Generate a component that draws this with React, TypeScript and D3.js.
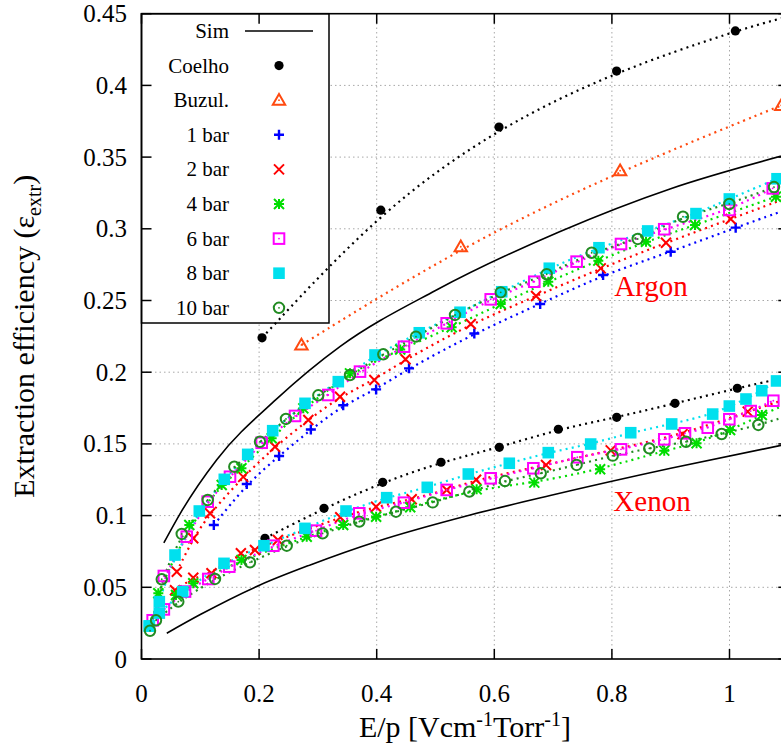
import * as d3 from 'd3';

type Pt = [number, number];

// simulation curves (solid black)
const simAr: Pt[] = [[0.038, 0.081], [0.066, 0.1016], [0.128, 0.139], [0.229, 0.181], [0.338, 0.218], [0.5, 0.257], [0.711, 0.298], [0.9, 0.328], [1.1, 0.352]];
const simXe: Pt[] = [[0.043, 0.018], [0.1, 0.031], [0.2015, 0.0516], [0.287, 0.0656], [0.399, 0.0818], [0.559, 0.1004], [0.695, 0.114], [0.9, 0.133], [1.1, 0.15]];

// literature data
const coelhoAr: Pt[] = [[0.205, 0.224], [0.407, 0.313], [0.608, 0.371], [0.808, 0.41], [1.01, 0.438]];
const coelhoXe: Pt[] = [[0.21, 0.0842], [0.3104, 0.1051], [0.4102, 0.1232], [0.5094, 0.1372], [0.6085, 0.1476], [0.7089, 0.1602], [0.8082, 0.1685], [0.9073, 0.1783], [1.0133, 0.1888]];
const buzulAr: Pt[] = [[0.272, 0.219], [0.543, 0.2875], [0.814, 0.3405], [1.088, 0.386]];

// measured, argon
const bar1Ar: Pt[] = [[0.123, 0.0934], [0.179, 0.122], [0.234, 0.1416], [0.288, 0.16], [0.343, 0.177], [0.399, 0.188], [0.455, 0.2027], [0.566, 0.227], [0.678, 0.2476], [0.785, 0.2678], [0.9, 0.284], [1.0105, 0.3008]];
const bar2Ar: Pt[] = [[0.06, 0.0609], [0.088, 0.0842], [0.1165, 0.1016], [0.173, 0.127], [0.227, 0.148], [0.2837, 0.1667], [0.3376, 0.1829], [0.396, 0.1946], [0.449, 0.209], [0.56, 0.2336], [0.671, 0.2531], [0.781, 0.2724], [0.892, 0.2903], [1.002, 0.3068]];
const bar4Ar: Pt[] = [[0.0286, 0.0458], [0.0813, 0.0934], [0.1364, 0.1213], [0.17, 0.133], [0.2214, 0.1539], [0.2752, 0.1748], [0.3546, 0.1992], [0.44, 0.2158], [0.5275, 0.2313], [0.6109, 0.2476], [0.6918, 0.2631], [0.7769, 0.2778], [0.858, 0.291], [0.9413, 0.3026], [1.079, 0.3224]];
const bar6Ar: Pt[] = [[0.019, 0.027], [0.038, 0.0579], [0.0769, 0.0853], [0.1126, 0.1097], [0.1505, 0.1271], [0.2044, 0.1508], [0.2611, 0.1695], [0.3177, 0.1841], [0.3716, 0.2004], [0.4464, 0.2178], [0.519, 0.2341], [0.5939, 0.2508], [0.668, 0.2631], [0.74, 0.2771], [0.8155, 0.2894], [0.889, 0.2997], [0.9997, 0.3131], [1.0735, 0.3282]];
const bar8Ar: Pt[] = [[0.0133, 0.023], [0.0303, 0.04], [0.057, 0.0725], [0.0983, 0.1032], [0.1408, 0.1253], [0.1806, 0.1427], [0.2231, 0.1592], [0.2781, 0.1783], [0.3347, 0.1934], [0.3971, 0.212], [0.4724, 0.2275], [0.5417, 0.2418], [0.6126, 0.2561], [0.6935, 0.2725], [0.778, 0.2868], [0.8609, 0.2985], [0.943, 0.3106], [0.9997, 0.3208], [1.0808, 0.3349]];
const bar10Ar: Pt[] = [[0.0145, 0.0197], [0.0344, 0.0556], [0.0684, 0.0872], [0.1126, 0.1109], [0.1578, 0.1341], [0.2015, 0.1515], [0.2457, 0.1674], [0.3007, 0.1839], [0.3546, 0.198], [0.4112, 0.2125], [0.4668, 0.2248], [0.5332, 0.2399], [0.6109, 0.2557], [0.6891, 0.2683], [0.7656, 0.2833], [0.8439, 0.2929], [0.9209, 0.3084], [0.9997, 0.3173], [1.0757, 0.3291]];

// measured, xenon
const bar2Xe: Pt[] = [[0.057, 0.048], [0.088, 0.0567], [0.119, 0.0598], [0.169, 0.0737], [0.193, 0.076], [0.232, 0.083], [0.338, 0.0988], [0.399, 0.1062], [0.4595, 0.1114], [0.519, 0.1179], [0.569, 0.125], [0.688, 0.1353], [0.798, 0.1455], [0.92, 0.1568], [1.031, 0.1725]];
const bar4Xe: Pt[] = [[0.0587, 0.0446], [0.088, 0.0528], [0.17, 0.069], [0.281, 0.0853], [0.343, 0.0934], [0.399, 0.0992], [0.457, 0.1058], [0.57, 0.1183], [0.668, 0.123], [0.78, 0.1323], [0.889, 0.1453], [0.944, 0.1504], [1.001, 0.1597], [1.055, 0.1702]];
const bar6Xe: Pt[] = [[0.038, 0.0346], [0.074, 0.047], [0.1136, 0.0558], [0.1493, 0.0644], [0.2242, 0.079], [0.2968, 0.0895], [0.3704, 0.1016], [0.4464, 0.109], [0.519, 0.1179], [0.5939, 0.126], [0.6664, 0.133], [0.7412, 0.1407], [0.8155, 0.1462], [0.8891, 0.1532], [0.9243, 0.1574], [0.963, 0.1613], [0.9997, 0.1672], [1.036, 0.1729], [1.0745, 0.1801]];
const bar8Xe: Pt[] = [[0.0133, 0.023], [0.0303, 0.032], [0.07, 0.047], [0.1403, 0.0667], [0.2083, 0.079], [0.278, 0.0911], [0.3478, 0.1032], [0.417, 0.1125], [0.486, 0.1197], [0.5558, 0.129], [0.6255, 0.1365], [0.6918, 0.1439], [0.7639, 0.1499], [0.832, 0.1578], [0.9017, 0.1639], [0.9714, 0.1708], [0.9997, 0.1764], [1.028, 0.1813], [1.0548, 0.1871], [1.08, 0.1939]];
const bar10Xe: Pt[] = [[0.0247, 0.027], [0.0626, 0.04], [0.125, 0.0558], [0.1845, 0.0674], [0.247, 0.079], [0.308, 0.0876], [0.3704, 0.0958], [0.4328, 0.1027], [0.4952, 0.1092], [0.5575, 0.1167], [0.6182, 0.1241], [0.679, 0.1295], [0.74, 0.1353], [0.8014, 0.1418], [0.8636, 0.1469], [0.926, 0.1515], [0.9867, 0.1569], [1.049, 0.1632]];

// where the dotted fit keeps going past the last marker
const coelhoArTail: Pt[] = [[1.09, 0.447]];
const coelhoXeTail: Pt[] = [[1.0876, 0.1957]];
const bar1ArTail: Pt[] = [[1.0876, 0.312]];
const bar2ArTail: Pt[] = [[1.0876, 0.32]];
const bar2XeTail: Pt[] = [[1.0876, 0.18]];
const bar4XeTail: Pt[] = [[1.0876, 0.176]];
const bar10XeTail: Pt[] = [[1.0876, 0.168]];

const xTicks = [0, 0.2, 0.4, 0.6, 0.8, 1];
const yTicks = [0, 0.05, 0.1, 0.15, 0.2, 0.25, 0.3, 0.35, 0.4, 0.45];

type MarkerType = 'dot' | 'tri' | 'plus' | 'cross' | 'star' | 'sqOpen' | 'sqFill' | 'circOpen';

const series: { name: string; color: string; marker: MarkerType; sets: Pt[][]; fits: Pt[][] }[] = [
  { name: 'Coelho', color: '#000000', marker: 'dot', sets: [coelhoAr, coelhoXe], fits: [[...coelhoAr, ...coelhoArTail], [...coelhoXe, ...coelhoXeTail]] },
  { name: 'Buzul.', color: '#ff4a10', marker: 'tri', sets: [buzulAr], fits: [buzulAr] },
  { name: '1 bar', color: '#0000ff', marker: 'plus', sets: [bar1Ar], fits: [[...bar1Ar, ...bar1ArTail]] },
  { name: '2 bar', color: '#ff0000', marker: 'cross', sets: [bar2Ar, bar2Xe], fits: [[...bar2Ar, ...bar2ArTail], [...bar2Xe, ...bar2XeTail]] },
  { name: '4 bar', color: '#00dd00', marker: 'star', sets: [bar4Ar, bar4Xe], fits: [bar4Ar, [...bar4Xe, ...bar4XeTail]] },
  { name: '6 bar', color: '#ff00ff', marker: 'sqOpen', sets: [bar6Ar, bar6Xe], fits: [bar6Ar, bar6Xe] },
  { name: '8 bar', color: '#00e0ee', marker: 'sqFill', sets: [bar8Ar, bar8Xe], fits: [bar8Ar, bar8Xe] },
  { name: '10 bar', color: '#228b22', marker: 'circOpen', sets: [bar10Ar, bar10Xe], fits: [bar10Ar, [...bar10Xe, ...bar10XeTail]] },
];

const W = 781;
const H = 744;
const X0 = 141.5;
const Y0 = 659;
const x = d3.scaleLinear().domain([0, 1.1]).range([X0, X0 + 1.1 * 588]);
const y = d3.scaleLinear().domain([0, 0.45]).range([Y0, Y0 - 0.45 * 1434]);
const TOP = y(0.45);
const RIGHT = x(1.1);

const simLine = d3.line<Pt>().x(d => x(d[0])).y(d => y(d[1])).curve(d3.curveMonotoneX);
const fitLine = d3.line<Pt>().x(d => x(d[0])).y(d => y(d[1])).curve(d3.curveBasis);

const FONT = '"Liberation Serif", "Times New Roman", serif';

function Marker({ type, cx, cy, color }: { type: MarkerType; cx: number; cy: number; color: string }) {
  const s = 5;
  const sw = 2;
  const centre = <circle cx={cx} cy={cy} r={0.9} fill={color} />;
  switch (type) {
    case 'dot':
      return <circle cx={cx} cy={cy} r={4.6} fill={color} />;
    case 'tri':
      return (
        <g>
          <path d={`M${cx},${cy - 6.2}L${cx + 6.2},${cy + 4.6}L${cx - 6.2},${cy + 4.6}Z`} fill="none" stroke={color} strokeWidth={sw} />
          {centre}
        </g>
      );
    case 'plus':
      return <path d={`M${cx - s},${cy}H${cx + s}M${cx},${cy - s}V${cy + s}`} stroke={color} strokeWidth={sw + 0.4} />;
    case 'cross':
      return <path d={`M${cx - s},${cy - s}L${cx + s},${cy + s}M${cx - s},${cy + s}L${cx + s},${cy - s}`} stroke={color} strokeWidth={sw} />;
    case 'star':
      return (
        <path
          d={`M${cx - s},${cy}H${cx + s}M${cx},${cy - s}V${cy + s}M${cx - s},${cy - s}L${cx + s},${cy + s}M${cx - s},${cy + s}L${cx + s},${cy - s}`}
          stroke={color}
          strokeWidth={sw}
        />
      );
    case 'sqOpen':
      return (
        <g>
          <rect x={cx - 5.3} y={cy - 5.3} width={10.6} height={10.6} fill="none" stroke={color} strokeWidth={sw} />
          {centre}
        </g>
      );
    case 'sqFill':
      return <rect x={cx - 5.8} y={cy - 5.8} width={11.6} height={11.6} fill={color} />;
    case 'circOpen':
      return (
        <g>
          <circle cx={cx} cy={cy} r={5.2} fill="none" stroke={color} strokeWidth={sw} />
          {centre}
        </g>
      );
  }
  return null;
}

const legendRows = ['Sim', ...series.map(s => s.name)];
const legendY = (i: number) => 31 + i * 34.6;

export default function App() {
  return (
    <svg width={W} height={H} style={{ position: 'absolute', left: 0, top: 0, background: '#fff' }} fontFamily={FONT}>
      {/* grid */}
      <g stroke="#a8a8a8" strokeWidth={1} strokeDasharray="1.5 3">
        {xTicks.filter(t => t > 0).map(t => (
          <line key={'gx' + t} x1={x(t)} x2={x(t)} y1={Y0} y2={TOP} />
        ))}
        {yTicks.filter(t => t > 0 && t < 0.45).map(t => (
          <line key={'gy' + t} x1={X0} x2={RIGHT} y1={y(t)} y2={y(t)} />
        ))}
      </g>

      {/* key */}
      <rect x={X0} y={TOP} width={329 - X0} height={323 - TOP} fill="#fff" stroke="#000" strokeWidth={1.5} />
      {legendRows.map((name, i) => (
        <text key={name} x={229} y={legendY(i) + 7} textAnchor="end" fontSize={21}>
          {name}
        </text>
      ))}
      <line x1={245} x2={313} y1={legendY(0)} y2={legendY(0)} stroke="#000" strokeWidth={1.6} />
      {series.map((s, i) => (
        <Marker key={s.name} type={s.marker} cx={279} cy={legendY(i + 1)} color={s.color} />
      ))}

      {/* simulation */}
      {[simAr, simXe].map((d, i) => (
        <path key={'sim' + i} d={simLine(d) || ''} fill="none" stroke="#000" strokeWidth={1.6} />
      ))}

      {/* fits */}
      {series.map(s =>
        s.fits.map((d, i) => (
          <path
            key={s.name + 'fit' + i}
            d={fitLine(d) || ''}
            fill="none"
            stroke={s.color}
            strokeWidth={2.2}
            strokeDasharray="2 4.2"
          />
        ))
      )}

      {/* points */}
      {series.map(s =>
        s.sets.map((d, i) => (
          <g key={s.name + 'pts' + i}>
            {d.map((p, j) => (
              <Marker key={j} type={s.marker} cx={x(p[0])} cy={y(p[1])} color={s.color} />
            ))}
          </g>
        ))
      )}

      {/* frame and ticks */}
      <rect x={X0} y={TOP} width={RIGHT - X0} height={Y0 - TOP} fill="none" stroke="#000" strokeWidth={1.6} />
      <g stroke="#000" strokeWidth={1.5}>
        {xTicks.map(t => (
          <g key={'tx' + t}>
            <line x1={x(t)} x2={x(t)} y1={Y0} y2={Y0 - 10} />
            <line x1={x(t)} x2={x(t)} y1={TOP} y2={TOP + 10} />
          </g>
        ))}
        {yTicks.map(t => (
          <g key={'ty' + t}>
            <line x1={X0} x2={X0 + 10} y1={y(t)} y2={y(t)} />
            <line x1={RIGHT} x2={RIGHT - 10} y1={y(t)} y2={y(t)} />
          </g>
        ))}
      </g>
      {xTicks.map(t => (
        <text key={'lx' + t} x={x(t)} y={702} textAnchor="middle" fontSize={25}>
          {d3.format('~g')(t)}
        </text>
      ))}
      {yTicks.map(t => (
        <text key={'ly' + t} x={127} y={y(t) + 8.5} textAnchor="end" fontSize={25}>
          {d3.format('~g')(t)}
        </text>
      ))}

      {/* axis titles */}
      <text x={x(0.55)} y={737} textAnchor="middle" fontSize={30}>
        E/p [Vcm<tspan dy={-11} fontSize={20}>-1</tspan>
        <tspan dy={11}>Torr</tspan>
        <tspan dy={-11} fontSize={20}>-1</tspan>
        <tspan dy={11}>]</tspan>
      </text>
      <text transform={`translate(34,${(Y0 + TOP) / 2}) rotate(-90)`} textAnchor="middle" fontSize={30}>
        Extraction efficiency (ε<tspan dy={7} fontSize={20}>extr</tspan>
        <tspan dy={-7}>)</tspan>
      </text>

      <text x={651} y={296} textAnchor="middle" fontSize={29} fill="#ff0000">
        Argon
      </text>
      <text x={652} y={511} textAnchor="middle" fontSize={29} fill="#ff0000">
        Xenon
      </text>
    </svg>
  );
}
